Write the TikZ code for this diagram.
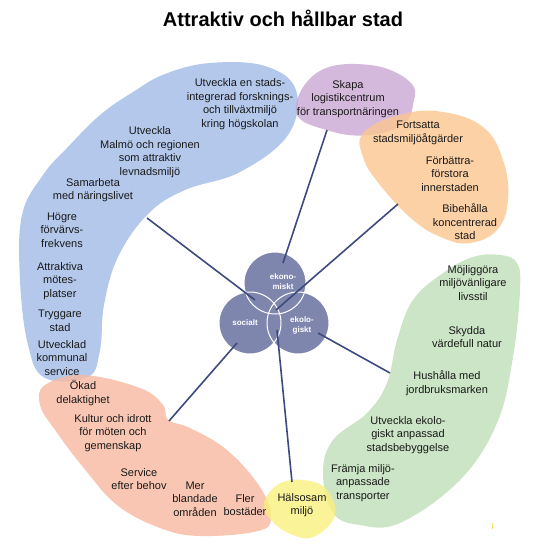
\documentclass[tikz,border=0pt]{standalone}
\usepackage{fontspec}
\setmainfont{Liberation Sans}
\begin{document}
\begin{tikzpicture}[x=1pt,y=-1pt]
\definecolor{cblue}{HTML}{A1BAE6}
\definecolor{cpurple}{HTML}{CBA8D4}
\definecolor{corange}{HTML}{FCC590}
\definecolor{cgreen}{HTML}{BFDEB8}
\definecolor{csalmon}{HTML}{F8B8A0}
\definecolor{cyellow}{HTML}{FAF07E}
\definecolor{cvenn}{HTML}{7F86AE}
\definecolor{cspoke}{HTML}{3D4A7E}
\tikzset{
  blob/.style={fill opacity=0.8, draw=none},
  lbl/.style={align=center, font=\fontsize{11}{13.5}\selectfont, text=black!90, inner sep=0pt},
  venn/.style={circle, minimum size=62pt, fill=cvenn, inner sep=0pt},
  vennrim/.style={draw=white, line width=1pt},
  vlbl/.style={align=center, text=white, font=\bfseries\fontsize{8}{10}\selectfont, inner sep=0pt},
  spoke/.style={draw=cspoke, line width=1.6pt}
}
\useasboundingbox (0,0) rectangle (534,555);
% title
\node[font=\bfseries\fontsize{20}{22}\selectfont] (title) at (283,18) {Attraktiv och hållbar stad};
% blobs
\fill[blob, cblue] plot[smooth cycle, tension=0.65] coordinates {
 (22,215) (43,175) (67,148) (100,115) (133,92) (165,74) (210,63) (265,66) (296,90) (288,135)
 (240,172) (185,190) (148,214) (118,257) (104,305) (100,350) (88,377) (45,378) (28,345) (20,280)};
\fill[blob, cpurple] plot[smooth cycle, tension=0.7] coordinates {
 (296,112) (318,72) (370,65) (410,82) (413,105) (403,124) (370,135) (330,131)};
\fill[blob, corange] plot[smooth cycle, tension=0.7] coordinates {
 (364,132) (403,114) (443,112) (483,127) (503,160) (508,200) (497,230) (470,243) (443,238)
 (413,220) (380,185) (363,157)};
\fill[blob, cgreen] plot[smooth cycle, tension=0.65] coordinates {
 (473,257) (500,255) (517,263) (520,290) (513,357) (497,423) (460,480) (400,523) (360,525)
 (333,513) (323,473) (333,440) (367,413) (387,383) (397,340) (413,300) (443,273)};
\fill[blob, csalmon] plot[smooth cycle, tension=0.65] coordinates {
 (45,385) (83,375) (140,388) (163,405) (168,420) (190,428) (227,450) (260,487) (271,517)
 (258,531) (200,536) (160,528) (117,505) (83,467) (55,430) (40,405)};
\fill[blob, cyellow] plot[smooth cycle, tension=0.7] coordinates {
 (264,503) (283,482) (317,483) (333,500) (333,520) (313,537) (293,535) (273,522)};
\draw[cyellow!80!orange, line width=0.8pt] (492,523) -- (492,529);
% venn circles
\node[venn] (eko) at (275,283) {};
\node[venn] (soc) at (250,323) {};
\node[venn] (ekol) at (298,323) {};
\draw[vennrim] (eko.center) circle (31);
\draw[vennrim] (soc.center) circle (31);
\draw[vennrim] (ekol.center) circle (31);
\node[vlbl] (tEko) at (283,282) {ekono-\\miskt};
\node[vlbl] (tSoc) at (245,323) {socialt};
\node[vlbl] (tEkol) at (302,325) {ekolo-\\giskt};
% spoke endpoints
\coordinate (pB) at (147,218);
\coordinate (qB) at (255,300);
\coordinate (pP) at (327,130);
\coordinate (qP) at (283,263);
\coordinate (pO) at (398,204);
\coordinate (qO) at (276,310);
\coordinate (pG) at (390,373);
\coordinate (qG) at (318,333);
\coordinate (pS) at (169,421);
\coordinate (qS) at (237,343);
\coordinate (pY) at (292,482);
\coordinate (qY) at (277,330);
\draw[spoke] (pB) -- (qB);
\draw[spoke] (pP) -- (qP);
\draw[spoke] (pO) -- (qO);
\draw[spoke] (pG) -- (qG);
\draw[spoke] (pS) -- (qS);
\draw[spoke] (pY) -- (qY);
% blue texts
\node[lbl] (b1) at (240,104) {Utveckla en stads-\\integrerad forsknings-\\och tillväxtmiljö\\kring högskolan};
\node[lbl] (b2) at (150,152) {Utveckla\\Malmö och regionen\\som attraktiv\\levnadsmiljö};
\node[lbl] (b3) at (93,190) {Samarbeta\\med näringslivet};
\node[lbl] (b4) at (62,230) {Högre\\förvärvs-\\frekvens};
\node[lbl] (b5) at (60,281) {Attraktiva\\mötes-\\platser};
\node[lbl] (b6) at (60,321) {Tryggare\\stad};
\node[lbl] (b7) at (62,358) {Utvecklad\\kommunal\\service};
% purple
\node[lbl] (p1) at (348,99) {Skapa\\logistikcentrum\\för transportnäringen};
% orange
\node[lbl] (o1) at (418,133) {Fortsatta\\stadsmiljöåtgärder};
\node[lbl] (o2) at (450,174) {Förbättra-\\förstora\\innerstaden};
\node[lbl] (o3) at (465,222) {Bibehålla\\koncentrerad\\stad};
% green
\node[lbl] (g1) at (473,283) {Möjliggöra\\miljövänligare\\livsstil};
\node[lbl] (g2) at (467,337) {Skydda\\värdefull natur};
\node[lbl] (g3) at (447,383) {Hushålla med\\jordbruksmarken};
\node[lbl] (g4) at (408,435) {Utveckla ekolo-\\giskt anpassad\\stadsbebyggelse};
\node[lbl] (g5) at (363,483) {Främja miljö-\\anpassade\\transporter};
% yellow
\node[lbl] (y1) at (302,505) {Hälsosam\\miljö};
% salmon
\node[lbl] (s1) at (83,393) {Ökad\\delaktighet};
\node[lbl] (s2) at (113,433) {Kultur och idrott\\för möten och\\gemenskap};
\node[lbl] (s3) at (139,479) {Service\\efter behov};
\node[lbl] (s4) at (195,499) {Mer\\blandade\\områden};
\node[lbl] (s5) at (245,505) {Fler\\bostäder};
\end{tikzpicture}
\end{document}
